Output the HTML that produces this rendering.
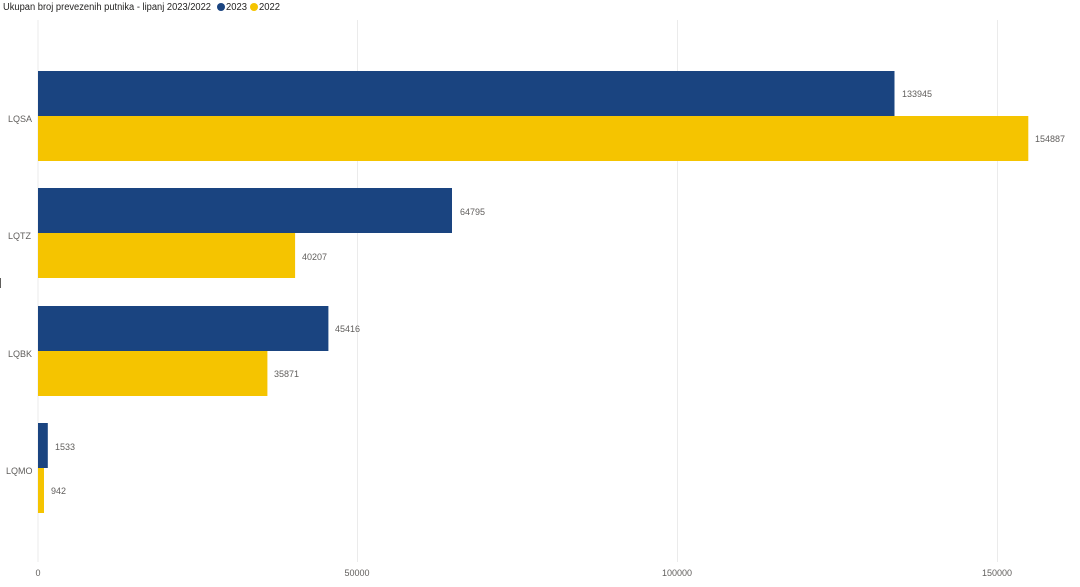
<!DOCTYPE html>
<html><head><meta charset="utf-8"><style>
body{margin:0;background:#fff;width:1080px;height:582px;overflow:hidden}
svg text{font-family:"Liberation Sans",sans-serif}
</style></head><body>
<svg width="1080" height="582" xmlns="http://www.w3.org/2000/svg">
<text x="3" y="10" font-size="10" fill="#252423" textLength="208" lengthAdjust="spacingAndGlyphs">Ukupan broj prevezenih putnika - lipanj 2023/2022</text>
<circle cx="221" cy="7" r="4" fill="#1A4480"/><text x="226" y="10" font-size="10" fill="#252423" textLength="21" lengthAdjust="spacingAndGlyphs">2023</text>
<circle cx="254" cy="7" r="4" fill="#F5C400"/><text x="259" y="10" font-size="10" fill="#252423" textLength="21" lengthAdjust="spacingAndGlyphs">2022</text>
<g stroke="#ebebeb" stroke-width="1">
<line x1="38" y1="20" x2="38" y2="562"/><line x1="357.5" y1="20" x2="357.5" y2="562"/><line x1="677.5" y1="20" x2="677.5" y2="562"/><line x1="997.5" y1="20" x2="997.5" y2="562"/>
</g>
<g font-size="9" fill="#605E5C" text-anchor="middle">
<text x="38" y="576">0</text><text x="357" y="576">50000</text><text x="677" y="576">100000</text><text x="997" y="576">150000</text>
</g>
<g font-size="9" fill="#605E5C">
<text x="8" y="122">LQSA</text><text x="8" y="239">LQTZ</text><text x="8" y="357">LQBK</text><text x="6" y="474">LQMO</text>
</g>
<g fill="#1A4480">
<rect x="38" y="71" width="856.5" height="45"/><rect x="38" y="188" width="414" height="45"/><rect x="38" y="306" width="290.4" height="45"/><rect x="38" y="423" width="9.8" height="45"/>
</g>
<g fill="#F5C400">
<rect x="38" y="116" width="990.3" height="45"/><rect x="38" y="233" width="257.1" height="45"/><rect x="38" y="351" width="229.4" height="45"/><rect x="38" y="468" width="6" height="45"/>
</g>
<g font-size="9" fill="#605E5C">
<text x="902" y="97">133945</text><text x="1035" y="142">154887</text>
<text x="460" y="215">64795</text><text x="302" y="260">40207</text>
<text x="335" y="332">45416</text><text x="274" y="377">35871</text>
<text x="55" y="450">1533</text><text x="51" y="494">942</text>
</g>
<rect x="0" y="278" width="1" height="10" fill="#605E5C"/>
</svg>
</body></html>
